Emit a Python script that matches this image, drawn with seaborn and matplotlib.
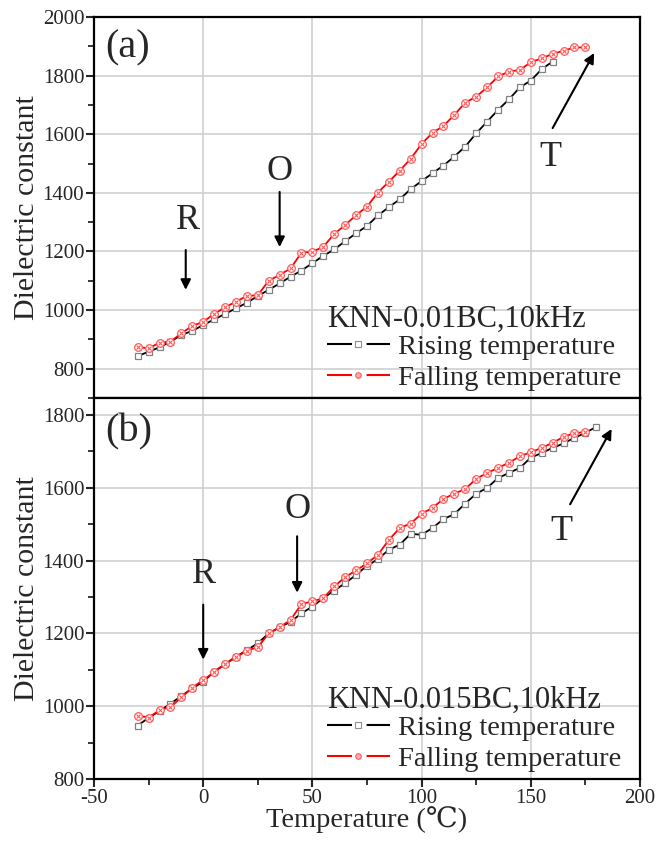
import matplotlib
matplotlib.use("Agg")
import matplotlib.pyplot as plt
import seaborn as sns
import pandas as pd
from matplotlib.lines import Line2D
from matplotlib.ticker import MultipleLocator

# ---------------- data ----------------
temp_a_rise = [-30, -25, -20, -15, -10, -5, 0, 5, 10, 15, 20, 25, 30, 35, 40, 45, 50, 55, 60, 65,
               70, 75, 80, 85, 90, 95, 100, 105, 110, 115, 120, 125, 130, 135, 140, 145, 150, 155, 160]
diel_a_rise = [843, 858, 873, 892, 915, 929, 949, 968, 987, 1006, 1025, 1048, 1069, 1091, 1114, 1135,
               1160, 1185, 1207, 1235, 1262, 1287, 1323, 1351, 1378, 1413, 1440, 1467, 1493, 1524,
               1558, 1603, 1643, 1683, 1719, 1760, 1783, 1822, 1848]
temp_a_fall = [-30, -25, -20, -15, -10, -5, 0, 5, 10, 15, 20, 25, 30, 35, 40, 45, 50, 55, 60, 65,
               70, 75, 80, 85, 90, 95, 100, 105, 110, 115, 120, 125, 130, 135, 140, 145, 150, 155,
               160, 165, 170, 175]
diel_a_fall = [875, 869, 889, 892, 921, 946, 960, 987, 1009, 1029, 1048, 1051, 1100, 1120, 1142, 1196,
               1199, 1216, 1260, 1290, 1324, 1353, 1401, 1438, 1476, 1516, 1567, 1605, 1628, 1666,
               1708, 1728, 1760, 1797, 1814, 1819, 1846, 1859, 1874, 1885, 1896, 1896]
temp_b_rise = [-30, -25, -20, -15, -10, -5, 0, 5, 10, 15, 20, 25, 30, 35, 40, 45, 50, 55, 60, 65,
               70, 75, 80, 85, 90, 95, 100, 105, 110, 115, 120, 125, 130, 135, 140, 145, 150, 155,
               160, 165, 170, 175, 180]
diel_b_rise = [947, 968, 987, 1007, 1028, 1049, 1067, 1095, 1116, 1136, 1154, 1173, 1200, 1217, 1232,
               1255, 1274, 1297, 1318, 1338, 1361, 1386, 1404, 1430, 1444, 1474, 1471, 1490, 1514,
               1528, 1557, 1584, 1600, 1627, 1641, 1655, 1683, 1696, 1710, 1722, 1738, 1751, 1768]
temp_b_fall = [-30, -25, -20, -15, -10, -5, 0, 5, 10, 15, 20, 25, 30, 35, 40, 45, 50, 55, 60, 65,
               70, 75, 80, 85, 90, 95, 100, 105, 110, 115, 120, 125, 130, 135, 140, 145, 150, 155,
               160, 165, 170, 175]
diel_b_fall = [974, 969, 989, 998, 1024, 1051, 1072, 1093, 1116, 1134, 1153, 1162, 1200, 1217, 1237,
               1281, 1288, 1297, 1329, 1355, 1373, 1393, 1416, 1457, 1490, 1502, 1529, 1545, 1570,
               1584, 1597, 1625, 1641, 1655, 1669, 1687, 1698, 1710, 1724, 1740, 1751, 1753]

legend_titles = ["KNN-0.01BC,10kHz", "KNN-0.015BC,10kHz"]
series_labels = ["Rising temperature", "Falling temperature"]
panel_labels = ["(a)", "(b)"]
x_label = "Temperature (\u2103)"
y_label = "Dielectric constant"

# ---------------- style ----------------
sns.set_style("ticks")
plt.rcParams["font.family"] = ["Liberation Serif", "DejaVu Serif"]
plt.rcParams["axes.unicode_minus"] = False

fig = plt.figure(figsize=(6.72, 8.43), dpi=100)
ax_a = fig.add_axes([94 / 672, 1 - 398 / 843, 546 / 672, 381 / 843])
ax_b = fig.add_axes([94 / 672, 1 - 779 / 843, 546 / 672, 381 / 843])

BLACK = "black"
RED = "#ff0000"
MRED = "#ff5a5a"


def draw(ax, tr, dr, tf, df):
    rise = pd.DataFrame({"T": tr, "D": dr})
    fall = pd.DataFrame({"T": tf, "D": df})
    sns.lineplot(data=rise, x="T", y="D", ax=ax, color=BLACK, lw=1.3, marker="s", ms=5,
                 mfc="white", mec="#808080", mew=0.9, zorder=3)
    sns.lineplot(data=fall, x="T", y="D", ax=ax, color=RED, lw=1.3, marker="o", ms=5.5,
                 mfc="white", mec=MRED, mew=0.9, zorder=4)
    ax.plot(fall["T"], fall["D"], ls="none", marker="x", ms=3.2, mec=MRED, mew=0.8, zorder=5)


draw(ax_a, temp_a_rise, diel_a_rise, temp_a_fall, diel_a_fall)
draw(ax_b, temp_b_rise, diel_b_rise, temp_b_fall, diel_b_fall)

ax_a.set_ylim(700, 2000)
ax_b.set_ylim(800, 1847)
for ax in (ax_a, ax_b):
    ax.set_xlim(-50, 200)
    ax.xaxis.set_major_locator(MultipleLocator(50))
    ax.xaxis.set_minor_locator(MultipleLocator(25))
    ax.yaxis.set_major_locator(MultipleLocator(200))
    ax.yaxis.set_minor_locator(MultipleLocator(100))
    ax.grid(True, which="major", color="#cfcfcf", lw=1.2)
    ax.set_axisbelow(True)
    for s in ax.spines.values():
        s.set_visible(True)
        s.set_linewidth(1.6)
        s.set_color("black")
    ax.tick_params(which="major", direction="out", length=6, width=1.5, labelsize=15, pad=1)
    ax.tick_params(which="minor", direction="out", length=4, width=1.3)
    ax.set_ylabel(y_label, fontsize=21.5, labelpad=2)
    ax.set_xlabel("")

ax_a.tick_params(axis="x", which="both", bottom=False, labelbottom=False)
ax_b.set_xlabel(x_label, fontsize=20.5, labelpad=-1)
ax_b.set_yticks([800, 1000, 1200, 1400, 1600, 1800])

# legends
for ax, title in ((ax_a, legend_titles[0]), (ax_b, legend_titles[1])):
    handles = [
        Line2D([], [], color=BLACK, lw=1.5, dashes=(12, 7), marker="s", ms=4, mfc="white",
               mec="#909090", mew=0.8),
        Line2D([], [], color=RED, lw=1.5, dashes=(12, 7), marker="o", ms=4, mfc="#ffb0b0",
               mec=MRED, mew=0.8),
    ]
    leg = ax.legend(handles, series_labels, title=title, loc="lower left", bbox_to_anchor=(0.39, -0.035),
                    frameon=False, fontsize=20.5, title_fontsize=22, alignment="left",
                    handlelength=2.2, handletextpad=0.3, labelspacing=0.2, borderpad=0.2)
    leg._legend_box.sep = 0

# panel labels
ax_a.text(-34.5, 1894, panel_labels[0], fontsize=29, ha="center", va="center")
ax_b.text(-34, 1753, panel_labels[1], fontsize=29, ha="center", va="center")

arrow = dict(arrowstyle="-|>", color="black", lw=1.5, mutation_scale=15, shrinkA=0, shrinkB=0)
# panel (a) annotations
ax_a.annotate("", xy=(-8, 1069), xytext=(-8, 1205), arrowprops=arrow)
ax_a.text(-7, 1307, "R", fontsize=26, ha="center", va="center")
ax_a.annotate("", xy=(35, 1215), xytext=(35, 1403), arrowprops=arrow)
ax_a.text(35, 1473, "O", fontsize=26, ha="center", va="center")
ax_a.annotate("", xy=(179, 1877), xytext=(160, 1621), arrowprops=arrow)
ax_a.text(159, 1519, "T", fontsize=26, ha="center", va="center")
# panel (b) annotations
ax_b.annotate("", xy=(0, 1128), xytext=(0, 1279), arrowprops=arrow)
ax_b.text(0.3, 1362, "R", fontsize=26, ha="center", va="center")
ax_b.annotate("", xy=(43, 1312), xytext=(43, 1467), arrowprops=arrow)
ax_b.text(43, 1541, "O", fontsize=26, ha="center", va="center")
ax_b.annotate("", xy=(187, 1762), xytext=(168, 1555), arrowprops=arrow)
ax_b.text(164, 1480, "T", fontsize=26, ha="center", va="center")

fig.savefig("out.png", dpi=100)
